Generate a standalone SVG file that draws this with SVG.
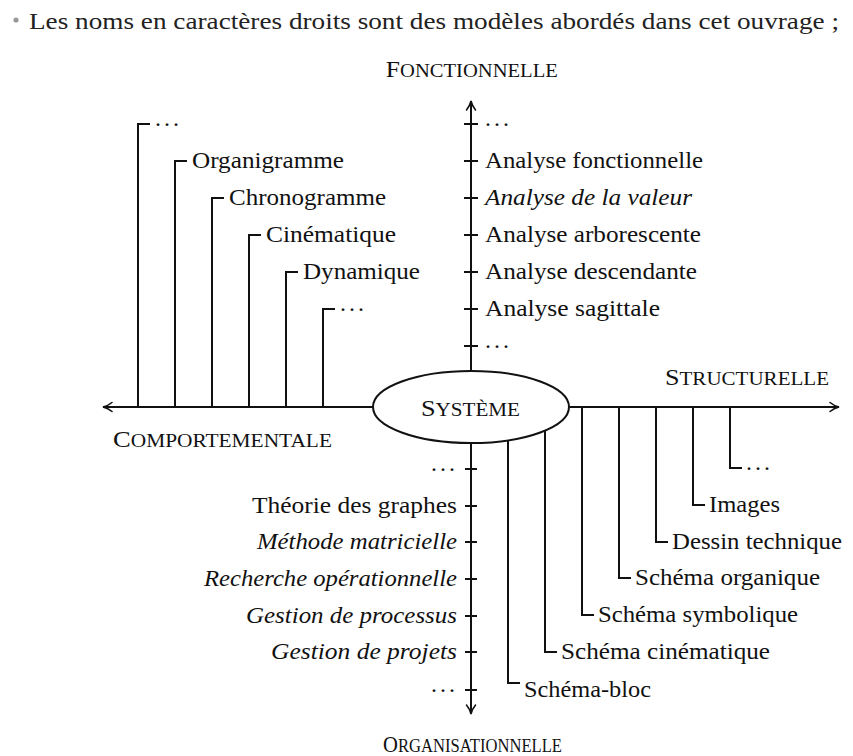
<svg xmlns="http://www.w3.org/2000/svg" width="853" height="756" viewBox="0 0 853 756">
  <style>
    text { font-family: "Liberation Serif", "DejaVu Serif", serif; }
    .lbl { font-size: 24px; fill: #111; }
    .it { font-style: italic; }
    .sc { font-size: 23px; fill: #111; }
    .sc tspan.s { font-size: 18.5px; }
    .ln { fill: none; stroke: #111; stroke-width: 2; }
    .note { font-size: 23px; fill: #222; }
  </style>
  <defs>
    <marker id="arrow" markerUnits="userSpaceOnUse" markerWidth="14" markerHeight="12" viewBox="-11 -6 12 12" refX="0" refY="0" orient="auto">
      <path d="M -9 -4.5 C -6 -2 -2 -0.5 0 0 C -2 0.5 -6 2 -9 4.5" fill="none" stroke="#111" stroke-width="1.6" stroke-linecap="round"/>
    </marker>
  </defs>
  <rect width="853" height="756" fill="#fff"/>

  <!-- header note -->
  <g id="note">
    <circle cx="16" cy="20" r="2.6" fill="#999"/>
    <text class="note" x="29" y="29" textLength="810" lengthAdjust="spacingAndGlyphs">Les noms en caractères droits sont des modèles abordés dans cet ouvrage ;</text>
  </g>

  <!-- connectors: axes, branches and ticks -->
  <g id="connectors" class="ln">
    <path d="M 373 407 H 103" marker-end="url(#arrow)"/>
    <path d="M 569 407 H 839" marker-end="url(#arrow)"/>
    <path d="M 471 371 V 101" marker-end="url(#arrow)"/>
    <path d="M 471 443 V 714" marker-end="url(#arrow)"/>

    <!-- comportementale branches -->
    <path d="M 138 407 V 124 H 150"/>
    <path d="M 175 407 V 161 H 187"/>
    <path d="M 212 407 V 198 H 224"/>
    <path d="M 249 407 V 235 H 261"/>
    <path d="M 286 407 V 272 H 298"/>
    <path d="M 323 407 V 309 H 335"/>

    <!-- fonctionnelle ticks -->
    <path d="M 464 124 H 478 M 464 161 H 478 M 464 198 H 478 M 464 235 H 478 M 464 272 H 478 M 464 309 H 478 M 464 346 H 478"/>

    <!-- organisationnelle ticks -->
    <path d="M 465 469 H 477 M 465 506 H 477 M 465 542 H 477 M 465 579 H 477 M 465 616 H 477 M 465 652 H 477 M 465 690 H 477"/>

    <!-- structurelle branches -->
    <path d="M 508 440 V 683 H 520"/>
    <path d="M 545 431 V 652 H 557"/>
    <path d="M 582 407 V 615 H 594"/>
    <path d="M 619 407 V 578 H 631"/>
    <path d="M 656 407 V 542 H 668"/>
    <path d="M 693 407 V 505 H 705"/>
    <path d="M 730 407 V 468 H 742"/>
  </g>

  <!-- central node -->
  <g id="systeme">
    <ellipse cx="471" cy="407" rx="98" ry="36" fill="#fff" stroke="#111" stroke-width="2"/>
    <text class="sc" x="470.5" y="416" text-anchor="middle" textLength="99" lengthAdjust="spacingAndGlyphs">S<tspan class="s">YSTÈME</tspan></text>
  </g>

  <!-- axis titles -->
  <g id="axis-fonctionnelle">
    <text class="sc" x="471.8" y="77" text-anchor="middle" textLength="172" lengthAdjust="spacingAndGlyphs">F<tspan class="s">ONCTIONNELLE</tspan></text>
  </g>
  <g id="axis-structurelle">
    <text class="sc" x="665" y="385" textLength="164" lengthAdjust="spacingAndGlyphs">S<tspan class="s">TRUCTURELLE</tspan></text>
  </g>
  <g id="axis-comportementale">
    <text class="sc" x="113" y="447" textLength="219" lengthAdjust="spacingAndGlyphs">C<tspan class="s">OMPORTEMENTALE</tspan></text>
  </g>
  <g id="axis-organisationnelle">
    <text class="sc" x="383" y="752" textLength="179" lengthAdjust="spacingAndGlyphs">O<tspan class="s">RGANISATIONNELLE</tspan></text>
  </g>

  <!-- comportementale models -->
  <g id="comp-dots-top"><text class="lbl" x="155" y="126" textLength="24">...</text></g>
  <g id="organigramme"><text class="lbl" x="192" y="168" textLength="152" lengthAdjust="spacingAndGlyphs">Organigramme</text></g>
  <g id="chronogramme"><text class="lbl" x="229" y="205" textLength="157" lengthAdjust="spacingAndGlyphs">Chronogramme</text></g>
  <g id="cinematique"><text class="lbl" x="266" y="242" textLength="130" lengthAdjust="spacingAndGlyphs">Cinématique</text></g>
  <g id="dynamique"><text class="lbl" x="303" y="279" textLength="117" lengthAdjust="spacingAndGlyphs">Dynamique</text></g>
  <g id="comp-dots-bottom"><text class="lbl" x="340" y="311" textLength="24">...</text></g>

  <!-- fonctionnelle models -->
  <g id="fonc-dots-top"><text class="lbl" x="485" y="126" textLength="24">...</text></g>
  <g id="analyse-fonctionnelle"><text class="lbl" x="485" y="168" textLength="218" lengthAdjust="spacingAndGlyphs">Analyse fonctionnelle</text></g>
  <g id="analyse-valeur"><text class="lbl it" x="485" y="205" textLength="207" lengthAdjust="spacingAndGlyphs">Analyse de la valeur</text></g>
  <g id="analyse-arborescente"><text class="lbl" x="485" y="242" textLength="216" lengthAdjust="spacingAndGlyphs">Analyse arborescente</text></g>
  <g id="analyse-descendante"><text class="lbl" x="485" y="279" textLength="212" lengthAdjust="spacingAndGlyphs">Analyse descendante</text></g>
  <g id="analyse-sagittale"><text class="lbl" x="485" y="316" textLength="175" lengthAdjust="spacingAndGlyphs">Analyse sagittale</text></g>
  <g id="fonc-dots-bottom"><text class="lbl" x="485" y="348" textLength="24">...</text></g>

  <!-- organisationnelle models -->
  <g id="orga-dots-top"><text class="lbl" x="455" y="471" text-anchor="end" textLength="24">...</text></g>
  <g id="theorie-graphes"><text class="lbl" x="457" y="513" text-anchor="end" textLength="205" lengthAdjust="spacingAndGlyphs">Théorie des graphes</text></g>
  <g id="methode-matricielle"><text class="lbl it" x="457" y="549" text-anchor="end" textLength="200" lengthAdjust="spacingAndGlyphs">Méthode matricielle</text></g>
  <g id="recherche-operationnelle"><text class="lbl it" x="457" y="586" text-anchor="end" textLength="253" lengthAdjust="spacingAndGlyphs">Recherche opérationnelle</text></g>
  <g id="gestion-processus"><text class="lbl it" x="457" y="623" text-anchor="end" textLength="211" lengthAdjust="spacingAndGlyphs">Gestion de processus</text></g>
  <g id="gestion-projets"><text class="lbl it" x="457" y="659" text-anchor="end" textLength="186" lengthAdjust="spacingAndGlyphs">Gestion de projets</text></g>
  <g id="orga-dots-bottom"><text class="lbl" x="455" y="692" text-anchor="end" textLength="24">...</text></g>

  <!-- structurelle models -->
  <g id="struct-dots"><text class="lbl" x="746" y="470" textLength="24">...</text></g>
  <g id="images"><text class="lbl" x="709" y="512" textLength="71" lengthAdjust="spacingAndGlyphs">Images</text></g>
  <g id="dessin-technique"><text class="lbl" x="672" y="549" textLength="170" lengthAdjust="spacingAndGlyphs">Dessin technique</text></g>
  <g id="schema-organique"><text class="lbl" x="635" y="585" textLength="185" lengthAdjust="spacingAndGlyphs">Schéma organique</text></g>
  <g id="schema-symbolique"><text class="lbl" x="598" y="622" textLength="200" lengthAdjust="spacingAndGlyphs">Schéma symbolique</text></g>
  <g id="schema-cinematique"><text class="lbl" x="561" y="659" textLength="209" lengthAdjust="spacingAndGlyphs">Schéma cinématique</text></g>
  <g id="schema-bloc"><text class="lbl" x="524" y="697" textLength="127" lengthAdjust="spacingAndGlyphs">Schéma-bloc</text></g>
</svg>
